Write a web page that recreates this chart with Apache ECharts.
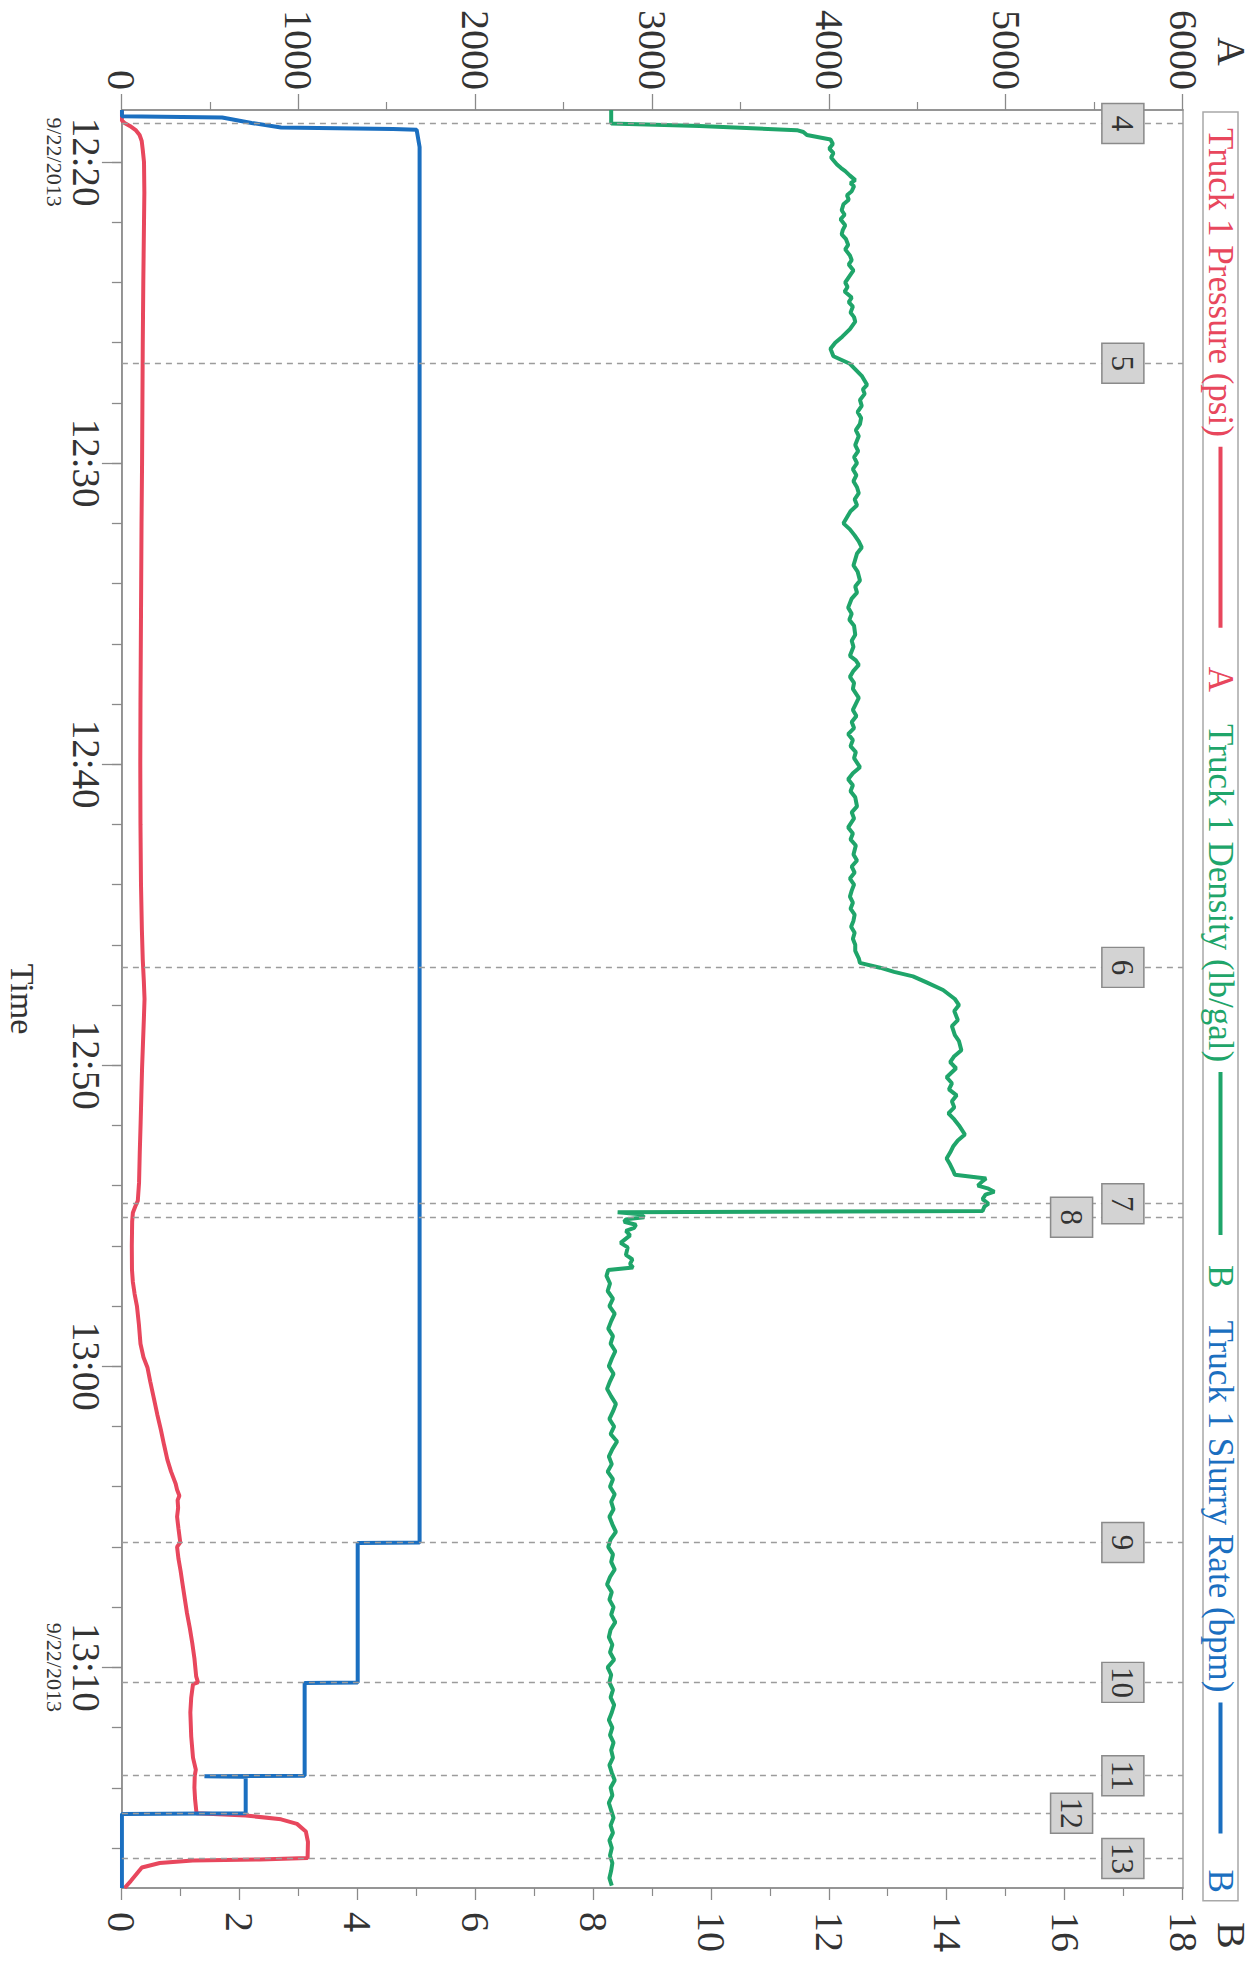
<!DOCTYPE html>
<html>
<head>
<meta charset="utf-8">
<script src="https://cdn.jsdelivr.net/npm/echarts@6/dist/echarts.min.js"></script>
<style>
html, body { margin: 0; padding: 0; background: #fff; width: 1259px; height: 1963px; overflow: hidden; }
#chart { position: absolute; left: 0; top: 0; width: 1963px; height: 1259px;
  transform-origin: 0 0; transform: translateX(1259px) rotate(90deg); }
</style>
</head>
<body>
<div id="chart"></div>
<script>
// ---------------- DATA (time = minutes after 12:00) ----------------
const seriesNames = ['Truck 1 Pressure (psi)', 'Truck 1 Density (lb/gal)', 'Truck 1 Slurry Rate (bpm)'];
const seriesAxisLetters = ['A', 'B', 'B'];

const timeLabelValues = [20, 30, 40, 50, 60, 70];
const timeTickValues = [20, 22, 24, 26, 28, 30, 32, 34, 36, 38, 40, 42, 44, 46, 48, 50, 52, 54, 56, 58, 60, 62, 64, 66, 68, 70, 72, 74, 76];
const dateLabelValues = [20, 70];
const dateText = '9/22/2013';
const timeStart = 18.27;   // 12:18:16
const timeEnd = 77.33;     // 13:17:20

const markerLabels = ['4', '5', '6', '7', '8', '9', '10', '11', '12', '13'];
const markerTimes  = [18.72, 26.68, 46.75, 54.6, 55.05, 65.85, 70.5, 73.6, 74.85, 76.35];
const markerRow    = [0, 0, 0, 0, 1, 0, 0, 0, 1, 0];

const pressure = [
  [18.27, 0], [18.62, 0], [18.7, 15], [18.8, 45], [18.95, 80], [19.1, 100], [19.3, 112], [19.6, 118],
  [20.0, 125], [21, 127], [22, 125], [24, 121], [26, 118], [28, 116], [30, 114], [32, 111], [34, 109],
  [36, 107], [38, 105], [40, 104], [42, 105], [44, 108], [45.5, 113], [46.5, 118], [47.2, 124], [47.8, 128],
  [48.5, 124], [49.3, 119], [50.1, 114], [51, 110], [51.9, 106], [52.9, 101], [53.9, 97], [54.5, 90],
  [54.7, 75], [54.9, 62], [55.2, 58], [56, 56], [56.8, 57], [57.2, 62], [57.6, 72], [58.0, 85], [58.6, 96],
  [59.25, 105], [59.7, 122], [60.05, 145], [60.5, 160], [61.1, 182], [61.6, 200], [62.1, 220], [62.6, 238],
  [63.1, 257], [63.5, 278], [63.9, 304], [64.1, 312], [64.3, 325], [64.45, 315], [64.7, 318], [65.0, 312],
  [65.4, 320], [65.85, 330], [66.0, 312], [66.4, 320], [66.8, 332], [67.2, 342], [67.7, 355], [68.2, 368],
  [68.7, 384], [69.2, 398], [69.7, 410], [70.3, 420], [70.5, 430], [70.56, 402], [71, 392], [71.5, 387],
  [72.3, 392], [73.0, 402], [73.4, 418], [73.6, 412], [74.0, 410], [74.4, 414], [74.85, 422], [74.92, 700],
  [75.05, 900], [75.2, 990], [75.45, 1040], [75.8, 1052], [76.33, 1050], [76.38, 780], [76.42, 400],
  [76.5, 214], [76.65, 113], [76.9, 78], [77.1, 50], [77.33, 15]
];

const densityHead = [
  [18.27, 8.30], [18.72, 8.30], [18.80, 9.8], [18.94, 11.45], [19.0, 11.56], [19.1, 11.62], [19.25, 12.02],
  [19.4, 12.06], [19.55, 12.0], [19.7, 12.07], [19.85, 12.03], [20.08, 12.13], [20.2, 12.20], [20.3, 12.27],
  [20.45, 12.35], [20.6, 12.44], [20.7, 12.36], [20.8, 12.42], [20.97, 12.38], [21.1, 12.30], [21.25, 12.33],
  [21.4, 12.24], [21.6, 12.21], [21.75, 12.26], [21.9, 12.19], [22.1, 12.27], [22.25, 12.23], [22.4, 12.21],
  [22.55, 12.28], [22.75, 12.32], [22.9, 12.27], [23.1, 12.35], [23.26, 12.38], [23.4, 12.33], [23.6, 12.41],
  [23.8, 12.34], [24.0, 12.27], [24.15, 12.31], [24.3, 12.26], [24.5, 12.38], [24.65, 12.33], [24.8, 12.40],
  [25.0, 12.36], [25.15, 12.42], [25.3, 12.44], [25.55, 12.35], [25.8, 12.22], [26.0, 12.10], [26.2, 12.02],
  [26.45, 12.07], [26.7, 12.35], [26.9, 12.45], [27.1, 12.55], [27.4, 12.64], [27.55, 12.57], [27.7, 12.60],
  [27.9, 12.52], [28.1, 12.55], [28.3, 12.48], [28.5, 12.54], [28.7, 12.52], [28.9, 12.45], [29.1, 12.50],
  [29.4, 12.44], [29.6, 12.49], [29.8, 12.42], [30.0, 12.47], [30.2, 12.40], [30.4, 12.46], [30.6, 12.41],
  [30.8, 12.47], [31.0, 12.50], [31.2, 12.43], [31.4, 12.47], [31.6, 12.36], [31.8, 12.30], [32.0, 12.24],
  [32.2, 12.35], [32.4, 12.43], [32.6, 12.50], [32.8, 12.55], [33.0, 12.47], [33.2, 12.44], [33.4, 12.41],
  [33.6, 12.48], [33.9, 12.52], [34.1, 12.44], [34.3, 12.47], [34.5, 12.38], [34.8, 12.32], [35.0, 12.38],
  [35.2, 12.34], [35.4, 12.42], [35.7, 12.44], [35.9, 12.38], [36.1, 12.41], [36.4, 12.35], [36.55, 12.45],
  [36.7, 12.50], [36.9, 12.41], [37.1, 12.35], [37.3, 12.42], [37.5, 12.40], [37.8, 12.50], [38.0, 12.45],
  [38.2, 12.40], [38.4, 12.46], [38.6, 12.38], [38.8, 12.42], [39.0, 12.32], [39.2, 12.40], [39.4, 12.36],
  [39.6, 12.45], [39.8, 12.42], [40.1, 12.52], [40.3, 12.40], [40.5, 12.32], [40.7, 12.40], [40.9, 12.36],
  [41.1, 12.44], [41.4, 12.47], [41.6, 12.38], [41.8, 12.42], [42.1, 12.32], [42.3, 12.40], [42.5, 12.36],
  [42.7, 12.45], [43.0, 12.41], [43.2, 12.47], [43.4, 12.38], [43.6, 12.43], [43.8, 12.35], [44.0, 12.42],
  [44.2, 12.38], [44.4, 12.35], [44.6, 12.40], [44.8, 12.36], [45.0, 12.43], [45.2, 12.41], [45.4, 12.37],
  [45.6, 12.43], [45.8, 12.40], [46.0, 12.44], [46.2, 12.44], [46.45, 12.50], [46.6, 12.52], [46.76, 12.86],
  [46.9, 13.1], [47.05, 13.42], [47.25, 13.65], [47.5, 13.93], [47.8, 14.13], [48.0, 14.20], [48.2, 14.12],
  [48.5, 14.18], [48.7, 14.08], [49.0, 14.13], [49.2, 14.20], [49.5, 14.24], [49.7, 14.12], [49.9, 14.05],
  [50.1, 14.15], [50.4, 13.99], [50.6, 14.08], [50.8, 14.03], [51.0, 14.16], [51.2, 14.08], [51.4, 14.12],
  [51.6, 14.02], [51.8, 14.12], [52.0, 14.20], [52.3, 14.30], [52.5, 14.18], [52.7, 14.10], [52.9, 14.05],
  [53.1, 13.99], [53.3, 14.05], [53.5, 14.10], [53.64, 14.13], [53.76, 14.66], [53.85, 14.60], [54.0, 14.52],
  [54.1, 14.70], [54.2, 14.80], [54.3, 14.65], [54.45, 14.60], [54.6, 14.70], [54.7, 14.63], [54.84, 14.60],
  [54.88, 8.41], [54.95, 8.80], [55.05, 8.86], [55.12, 8.55], [55.2, 8.52], [55.3, 8.72], [55.4, 8.69],
  [55.5, 8.55], [55.65, 8.62], [55.9, 8.46], [56.05, 8.58], [56.3, 8.55], [56.45, 8.66], [56.6, 8.62],
  [56.72, 8.67], [56.8, 8.25]
];
// density after 12:57:00, one reading every 15 s
const densityTailStart = 57.0;
const densityTailStep = 0.25;
const densityTail = [
  8.22, 8.28, 8.24, 8.33, 8.27, 8.36, 8.30, 8.25,
  8.33, 8.29, 8.37, 8.31, 8.26, 8.34, 8.28, 8.23,
  8.30, 8.38, 8.33, 8.27, 8.35, 8.29, 8.40, 8.32,
  8.26, 8.31, 8.24, 8.33, 8.28, 8.36, 8.30, 8.34,
  8.27, 8.32, 8.38, 8.29, 8.25, 8.33, 8.30, 8.36,
  8.28, 8.23, 8.31, 8.27, 8.34, 8.30, 8.37, 8.29,
  8.26, 8.32, 8.28, 8.35, 8.24, 8.30, 8.27, 8.33,
  8.29, 8.35, 8.31, 8.26, 8.32, 8.28, 8.34, 8.30,
  8.33, 8.27, 8.31, 8.36, 8.29, 8.32, 8.26, 8.30,
  8.34, 8.29, 8.33, 8.27, 8.31, 8.28, 8.32, 8.30,
  8.27, 8.31
];

const slurryRate = [
  [18.27, 0], [18.48, 0], [18.52, 1.7], [18.7, 2.2], [18.85, 2.7], [18.9, 4.6], [18.93, 5.0],
  [19.5, 5.05], [65.85, 5.05], [65.87, 4.0], [70.5, 4.0], [70.52, 3.1], [73.6, 3.1], [73.62, 1.4],
  [73.64, 2.1], [74.85, 2.1], [74.87, 0], [77.33, 0]
];

// ---------------- CHART ----------------
const FONT = "'Liberation Serif', 'Times New Roman', serif";
const RED = '#e8475d', GREEN = '#1fa56a', BLUE = '#1b6fc0';
const COLORS = [RED, GREEN, BLUE];
const AXIS_GRAY = '#8a8a8a', TEXT = '#333';
const boxLevelsA = [5660, 5370];

function hhmm(v) {
  const h = 12 + Math.floor(v / 60);
  const m = Math.round(v % 60);
  return h + ':' + String(m).padStart(2, '0');
}

const density = densityHead.concat(densityTail.map((v, i) => [densityTailStart + densityTailStep * i, v]));

const legendLine = [181, 163, 131];
const legendAfter = [39, 30, 36];
const rich = { g: { width: 10, height: 4 } };
COLORS.forEach((c, i) => {
  rich['n' + i] = { color: c, fontSize: 35, fontFamily: FONT, lineHeight: 36 };
  rich['l' + i] = { width: legendLine[i], height: 4, backgroundColor: c };
  rich['h' + i] = { width: legendAfter[i], height: 4 };
  rich['a' + i] = { color: c, fontSize: 35, fontFamily: FONT, lineHeight: 36 };
});

const chart = echarts.init(document.getElementById('chart'), null, { renderer: 'svg', width: 1963, height: 1259 });

chart.setOption({
  animation: false,
  backgroundColor: '#fff',
  grid: { left: 110, right: 75, top: 76, bottom: 115, show: true, borderColor: '#a0a0a0', borderWidth: 1.5 },
  legend: {
    data: seriesNames,
    left: 112, top: 21,
    itemWidth: 0, itemHeight: 0, itemGap: 26,
    padding: [0, 8, 0, 10],
    borderColor: '#a8a8a8', borderWidth: 1.5,
    selectedMode: false,
    formatter: name => {
      const i = seriesNames.indexOf(name);
      return `{n${i}|${name}}{g|}{l${i}|}{h${i}|}{a${i}|${seriesAxisLetters[i]}}`;
    },
    textStyle: { rich: rich }
  },
  xAxis: [{
    type: 'value', position: 'bottom', min: timeStart, max: timeEnd,
    name: 'Time', nameLocation: 'middle', nameGap: 82,
    nameTextStyle: { fontSize: 34, fontFamily: FONT, color: TEXT },
    axisLine: { show: true, lineStyle: { color: AXIS_GRAY, width: 1.5 } },
    axisTick: { show: true, customValues: timeTickValues, length: 10, lineStyle: { color: AXIS_GRAY, width: 1.3 } },
    axisLabel: {
      customValues: timeLabelValues, margin: 14,
      formatter: v => dateLabelValues.includes(v) ? `{t|${hhmm(v)}}\n{d|${dateText}}` : `{t|${hhmm(v)}}`,
      rich: {
        t: { fontSize: 39, fontFamily: FONT, color: TEXT, lineHeight: 42 },
        d: { fontSize: 22, fontFamily: FONT, color: TEXT, lineHeight: 22 }
      }
    },
    splitLine: { show: false }
  }, {
    type: 'value', position: 'bottom', min: timeStart, max: timeEnd,
    axisLine: { show: false },
    axisTick: { show: true, customValues: timeLabelValues, length: 20, lineStyle: { color: AXIS_GRAY, width: 1.3 } },
    axisLabel: { show: false },
    splitLine: { show: false }
  }],
  yAxis: [{
    type: 'value', position: 'left', min: 0, max: 6000, interval: 1000,
    name: 'A', nameLocation: 'end', nameGap: 28,
    nameTextStyle: { fontSize: 40, fontFamily: FONT, color: TEXT, align: 'right', verticalAlign: 'bottom', padding: [0, 44, 0, 0] },
    axisLine: { show: true, lineStyle: { color: AXIS_GRAY, width: 1.5 } },
    axisTick: { show: true, length: 16, lineStyle: { color: AXIS_GRAY, width: 1.3 } },
    minorTick: { show: true, splitNumber: 2, length: 8, lineStyle: { color: AXIS_GRAY, width: 1.2 } },
    axisLabel: { margin: 20, fontSize: 40, fontFamily: FONT, color: TEXT, formatter: v => String(v) },
    splitLine: { show: false }
  }, {
    type: 'value', position: 'right', min: 0, max: 18, interval: 2,
    name: 'B', nameLocation: 'end', nameGap: 28,
    nameTextStyle: { fontSize: 40, fontFamily: FONT, color: TEXT, align: 'left', verticalAlign: 'bottom', padding: [0, 0, 0, 34] },
    axisLine: { show: true, lineStyle: { color: AXIS_GRAY, width: 1.5 } },
    axisTick: { show: true, length: 12, lineStyle: { color: AXIS_GRAY, width: 1.3 } },
    minorTick: { show: true, splitNumber: 2, length: 8, lineStyle: { color: AXIS_GRAY, width: 1.2 } },
    axisLabel: { margin: 24, fontSize: 40, fontFamily: FONT, color: TEXT, formatter: v => String(v) },
    splitLine: { show: false }
  }],
  series: [{
    name: seriesNames[0], type: 'line', xAxisIndex: 0, yAxisIndex: 0, data: pressure,
    symbol: 'none', showSymbol: false, lineStyle: { color: RED, width: 4 }, itemStyle: { color: RED }, z: 3,
    markLine: {
      silent: true, symbol: ['none', 'none'], label: { show: false },
      lineStyle: { color: '#9c9c9c', width: 1.3, type: [6, 5] },
      data: markerTimes.map(t => ({ xAxis: t }))
    }
  }, {
    name: seriesNames[1], type: 'line', xAxisIndex: 0, yAxisIndex: 1, data: density,
    symbol: 'none', showSymbol: false, lineStyle: { color: GREEN, width: 4 }, itemStyle: { color: GREEN }, z: 3
  }, {
    name: seriesNames[2], type: 'line', xAxisIndex: 0, yAxisIndex: 1, data: slurryRate,
    symbol: 'none', showSymbol: false, lineStyle: { color: BLUE, width: 4 }, itemStyle: { color: BLUE }, z: 4
  }, {
    name: 'events', type: 'scatter', xAxisIndex: 0, yAxisIndex: 0, silent: true, z: 6,
    data: markerTimes.map((t, i) => ({ name: markerLabels[i], value: [t, boxLevelsA[markerRow[i]]] })),
    symbol: 'rect', symbolSize: [40, 42],
    itemStyle: { color: '#d3d3d3', borderColor: '#8a8a8a', borderWidth: 1.5, opacity: 1 },
    label: { show: true, position: 'inside', formatter: p => p.name, fontSize: 31, fontFamily: FONT, color: TEXT }
  }]
});
</script>
</body>
</html>
